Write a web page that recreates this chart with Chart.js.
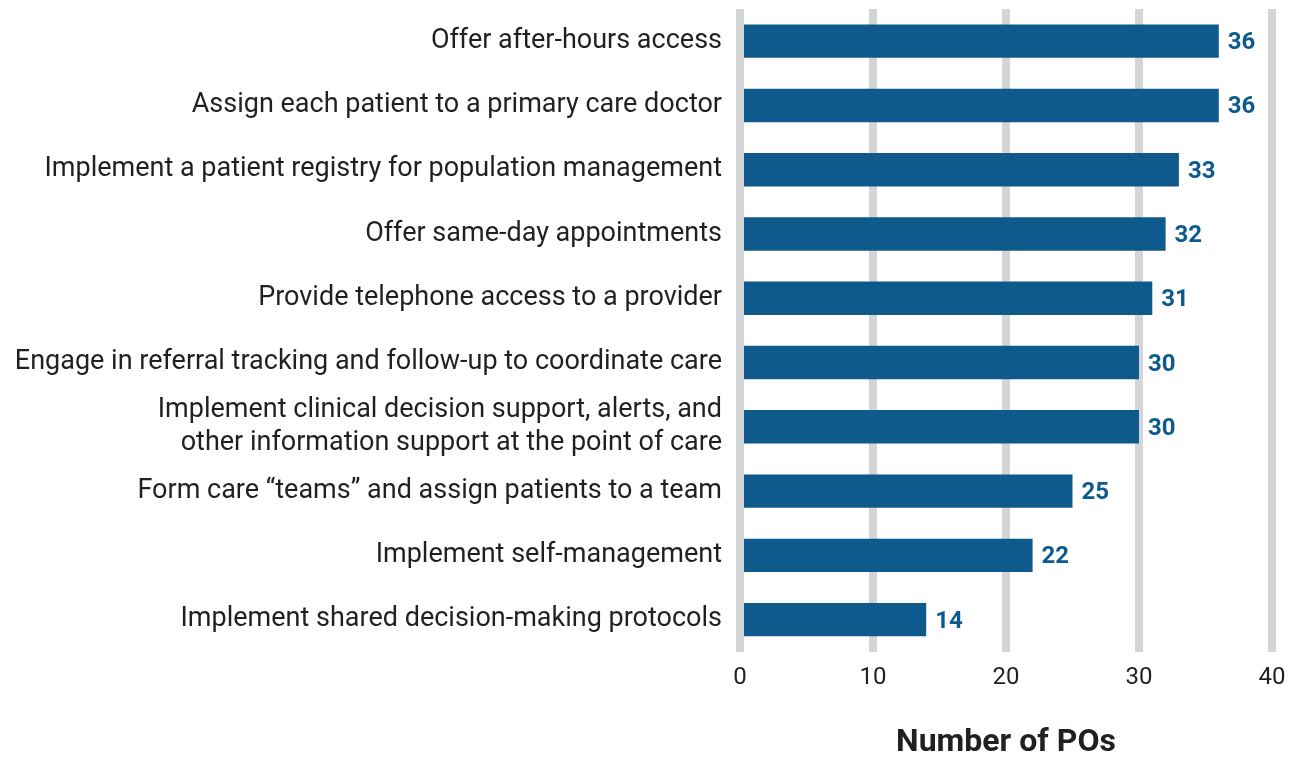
<!DOCTYPE html>
<html>
<head>
<meta charset="utf-8">
<script src="https://cdn.jsdelivr.net/npm/chart.js@4/dist/chart.umd.min.js"></script>
<style>
  html, body { margin: 0; padding: 0; background: #fff; }
  #wrap { width: 1289px; height: 757px; }
</style>
</head>
<body>
<div id="wrap"><canvas id="po-chart" width="1289" height="757"></canvas></div>
<script>
const categories = [
    'Offer after-hours access',
    'Assign each patient to a primary care doctor',
    'Implement a patient registry for population management',
    'Offer same-day appointments',
    'Provide telephone access to a provider',
    'Engage in referral tracking and follow-up to coordinate care',
    ['Implement clinical decision support, alerts, and', 'other information support at the point of care'],
    'Form care \u201cteams\u201d and assign patients to a team',
    'Implement self-management',
    'Implement shared decision-making protocols'
];
const poCounts = [36, 36, 33, 32, 31, 30, 30, 25, 22, 14];
const xTicks = [0, 10, 20, 30, 40];

const barColor = '#0f5a8c';
const gridColor = '#d4d5d7';
const textColor = '#231f20';
const fontFamily = 'Roboto, "Noto Sans", sans-serif';

// draws the numbers at the end of each bar
const valueLabels = {
    id: 'valueLabels',
    afterDatasetsDraw(chart) {
        const ctx = chart.ctx;
        const meta = chart.getDatasetMeta(0);
        ctx.save();
        ctx.fillStyle = barColor;
        ctx.font = 'bold 24px ' + fontFamily;
        ctx.textAlign = 'left';
        ctx.textBaseline = 'middle';
        meta.data.forEach((bar, i) => {
            ctx.fillText(String(poCounts[i]), bar.x + 9, bar.y + 2);
        });
        ctx.restore();
    }
};

new Chart(document.getElementById('po-chart').getContext('2d'), {
    type: 'bar',
    data: {
        labels: categories,
        datasets: [{
            data: poCounts,
            backgroundColor: barColor,
            borderWidth: 0,
            categoryPercentage: 1,
            barPercentage: 0.52
        }]
    },
    options: {
        indexAxis: 'y',
        responsive: false,
        animation: false,
        layout: {padding: {top: 9, right: 17, bottom: 0, left: 0}},
        scales: {
            x: {
                min: 0,
                max: 40,
                afterBuildTicks: scale => { scale.ticks = xTicks.map(v => ({value: v})); },
                afterFit: scale => { scale.paddingLeft = 0; scale.paddingRight = 0; },
                grid: {color: gridColor, lineWidth: 8, drawTicks: false},
                border: {display: false},
                ticks: {color: textColor, font: {family: fontFamily, size: 24}, padding: 12},
                title: {
                    display: true,
                    text: 'Number of POs',
                    color: textColor,
                    font: {family: fontFamily, size: 32, weight: 'bold'},
                    padding: {top: 19, bottom: -5}
                }
            },
            y: {
                afterFit: scale => {
                    scale.width = 740;
                    scale.paddingTop = 0;
                    scale.paddingBottom = 0;
                },
                grid: {display: false, drawTicks: false},
                border: {display: false},
                ticks: {
                    color: textColor,
                    font: {family: fontFamily, size: 27},
                    padding: 18,
                    autoSkip: false
                }
            }
        },
        plugins: {
            legend: {display: false},
            tooltip: {enabled: false}
        }
    },
    plugins: [valueLabels]
});
</script>
</body>
</html>
